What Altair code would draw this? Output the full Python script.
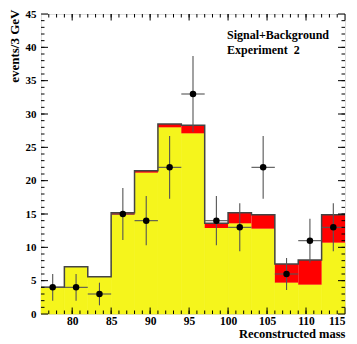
import altair as alt
import pandas as pd

# ---- data ----
bin_low = [76, 79, 82, 85, 88, 91, 94, 97, 100, 103, 106, 109, 112]
bin_high = [79, 82, 85, 88, 91, 94, 97, 100, 103, 106, 109, 112, 115]
background = [4.0, 7.1, 5.6, 14.9, 21.2, 28.0, 27.1, 12.9, 13.6, 12.8, 4.7, 4.4, 10.7]
signal_plus_background = [4.0, 7.1, 5.6, 15.2, 21.5, 28.5, 28.3, 13.6, 15.2, 14.9, 7.5, 8.1, 14.9]
mass_points = [77.5, 80.5, 83.5, 86.5, 89.5, 92.5, 95.5, 98.5, 101.5, 104.5, 107.5, 110.5, 113.5]
observed = [4, 4, 3, 15, 14, 22, 33, 14, 13, 22, 6, 11, 13]
observed_err = [2.0, 2.0, 1.7, 3.9, 3.7, 4.7, 5.7, 3.7, 3.6, 4.7, 2.4, 3.3, 3.6]
x_labels = [80, 85, 90, 95, 100, 105, 110, 115]
y_labels = [0, 5, 10, 15, 20, 25, 30, 35, 40, 45]
x_minor = list(range(77, 115))
y_minor = list(range(1, 45))
notes = ["Signal+Background", "Experiment\u00a0 2"]

W, H = 304, 300
FONT = "Liberation Serif"

xs = alt.Scale(domain=[76, 115], nice=False, zero=False)
ys = alt.Scale(domain=[0, 45], nice=False)

hist = pd.DataFrame({"lo": bin_low, "hi": bin_high, "bkg": background, "tot": signal_plus_background})
step = pd.DataFrame({"e": bin_low + [bin_high[-1]], "v": signal_plus_background + [signal_plus_background[-1]]})
obs = pd.DataFrame({
    "m": mass_points, "n": observed,
    "lo": [n - e for n, e in zip(observed, observed_err)],
    "hi": [n + e for n, e in zip(observed, observed_err)],
    "xl": bin_low, "xr": bin_high,
})

xaxis = alt.Axis(values=x_labels, format="d", tickSize=0, domain=False, grid=False,
                 labelFont=FONT, labelFontWeight="bold", labelFontSize=11.5, labelColor="black",
                 labelPadding=1, labelFlush=True,
                 title="Reconstructed mass", titleFont=FONT, titleFontWeight="bold", titleFontSize=12.5,
                 titleColor="black", titleAnchor="end", titleAlign="right", titleX=W, titleY=23,
                 titleBaseline="alphabetic")
yaxis = alt.Axis(values=y_labels, format="d", tickSize=0, domain=False, grid=False,
                 labelFont=FONT, labelFontWeight="bold", labelFontSize=11, labelColor="black",
                 labelPadding=5,
                 title="events/3 GeV", titleFont=FONT, titleFontWeight="bold", titleFontSize=13,
                 titleColor="black", titleAngle=-90, titleAlign="right", titleBaseline="middle",
                 titleX=-27, titleY=-5)


def X(f):
    return alt.X(f, scale=xs, axis=xaxis)


def Y(f):
    return alt.Y(f, scale=ys, axis=yaxis)


yellow = alt.Chart(hist).mark_rect(color="#f5f51c", stroke="#f5f51c", strokeWidth=0.6).encode(
    x=X("lo:Q"), x2="hi:Q", y=Y("bkg:Q"), y2=alt.datum(0))
red = alt.Chart(hist).mark_rect(color="#ff0000").encode(
    x=X("lo:Q"), x2="hi:Q", y=Y("tot:Q"), y2="bkg:Q")
outline = alt.Chart(step).mark_line(interpolate="step-after", color="#444444", strokeWidth=1.5).encode(
    x=X("e:Q"), y=Y("v:Q"))

errv = alt.Chart(obs).mark_rule(color="#555555", strokeWidth=1.1).encode(
    x=X("m:Q"), y=Y("lo:Q"), y2="hi:Q")
errh = alt.Chart(obs).mark_rule(color="#555555", strokeWidth=1.1).encode(
    x=X("xl:Q"), x2="xr:Q", y=Y("n:Q"))
pts = alt.Chart(obs).mark_circle(color="black", opacity=1, size=42).encode(
    x=X("m:Q"), y=Y("n:Q"))


def xticks(vals, length):
    d = pd.DataFrame({"t": vals})
    bot = alt.Chart(d).mark_rule(color="black", strokeWidth=1).encode(
        x=X("t:Q"), y=alt.value(H), y2=alt.value(H - length))
    top = alt.Chart(d).mark_rule(color="black", strokeWidth=1).encode(
        x=X("t:Q"), y=alt.value(0), y2=alt.value(length))
    return [bot, top]


def yticks(vals, length):
    d = pd.DataFrame({"t": vals})
    left = alt.Chart(d).mark_rule(color="black", strokeWidth=1).encode(
        y=Y("t:Q"), x=alt.value(0), x2=alt.value(length))
    right = alt.Chart(d).mark_rule(color="black", strokeWidth=1).encode(
        y=Y("t:Q"), x=alt.value(W), x2=alt.value(W - length))
    return [left, right]


tick_layers = xticks(x_minor, 3.5) + xticks(x_labels, 6.5) + yticks(y_minor, 3.5) + yticks(y_labels, 7)

note_df = pd.DataFrame({"txt": notes})
note1 = alt.Chart(note_df).transform_filter(alt.datum.txt == notes[0]).mark_text(
    align="left", baseline="alphabetic", font=FONT, fontWeight="bold", fontSize=12, color="black").encode(
    text="txt:N", x=alt.value(186), y=alt.value(25))
note2 = alt.Chart(note_df).transform_filter(alt.datum.txt == notes[1]).mark_text(
    align="left", baseline="alphabetic", font=FONT, fontWeight="bold", fontSize=12, color="black").encode(
    text="txt:N", x=alt.value(186), y=alt.value(40))

chart = alt.layer(yellow, red, outline, errv, errh, pts, *tick_layers, note1, note2).properties(
    width=W, height=H,
    autosize=alt.AutoSizeParams(type="none"),
    padding={"left": 33, "top": 6, "right": 4, "bottom": 30},
).configure_view(stroke="black", strokeWidth=1.2).configure(background="white")

chart.save("out.html", embed_options={"renderer": "svg", "actions": False})
